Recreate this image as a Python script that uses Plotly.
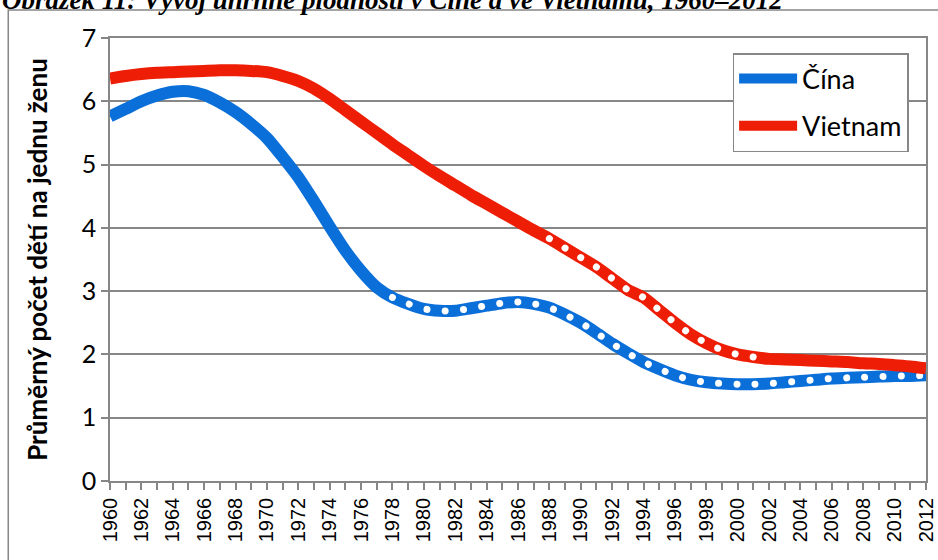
import plotly.graph_objects as go

# Total fertility rate, China vs Vietnam, 1960-2012
YEARS = list(range(1960, 2013))

CHINA = [5.76, 5.88, 6.00, 6.09, 6.15, 6.16, 6.10, 5.98, 5.83, 5.64,
         5.42, 5.12, 4.80, 4.42, 4.02, 3.64, 3.32, 3.06, 2.90, 2.80,
         2.72, 2.69, 2.69, 2.73, 2.77, 2.81, 2.83, 2.80, 2.74, 2.63,
         2.50, 2.34, 2.17, 2.02, 1.88, 1.77, 1.67, 1.60, 1.56, 1.54,
         1.53, 1.53, 1.54, 1.56, 1.58, 1.60, 1.62, 1.63, 1.64, 1.65,
         1.66, 1.66, 1.67]

VIETNAM = [6.36, 6.40, 6.43, 6.45, 6.46, 6.47, 6.48, 6.49, 6.49, 6.48,
           6.46, 6.40, 6.32, 6.20, 6.04, 5.86, 5.68, 5.50, 5.32, 5.15,
           4.98, 4.82, 4.67, 4.52, 4.38, 4.24, 4.10, 3.96, 3.83, 3.68,
           3.53, 3.38, 3.20, 3.02, 2.90, 2.70, 2.50, 2.32, 2.18, 2.07,
           2.00, 1.96, 1.93, 1.92, 1.91, 1.90, 1.89, 1.88, 1.86, 1.85,
           1.83, 1.81, 1.78]

# years drawn with the white dotted overlay
CHINA_DOTTED = (1978, 2012)
VIETNAM_DOTTED = (1988, 2002)

X_TICKS = list(range(1960, 2013, 2))
Y_TICKS = list(range(0, 8))

TITLE = "Obrázek 11: Vývoj úhrnné plodnosti v Číně a ve Vietnamu, 1960–2012"
Y_TITLE = "Průměrný počet dětí na jednu ženu"

BLUE = "#0B6FD9"
RED = "#EE1D05"
GRID = "#878787"


def subset(years, values, span):
    xs, ys = [], []
    for yr, v in zip(years, values):
        if span[0] <= yr <= span[1]:
            xs.append(yr)
            ys.append(v)
    return xs, ys


fig = go.Figure()

for name, vals, color, span in [("Čína", CHINA, BLUE, CHINA_DOTTED),
                                ("Vietnam", VIETNAM, RED, VIETNAM_DOTTED)]:
    fig.add_trace(go.Scatter(
        x=YEARS, y=vals, name=name, mode="lines",
        line=dict(color=color, width=12, shape="spline", smoothing=0.6),
        legendgroup=name,
    ))
    dx, dy = subset(YEARS, vals, span)
    fig.add_trace(go.Scatter(
        x=dx, y=dy, mode="lines", showlegend=False, hoverinfo="skip",
        line=dict(color="#FFFFFF", width=7, shape="spline", smoothing=0.6,
                  dash="5px,13px"),
        legendgroup=name,
    ))

# outer chart frame (runs off the right and bottom edges)
fig.add_shape(type="rect", xref="paper", yref="paper",
              x0=-0.1247, x1=1.05, y0=-0.3, y1=1.0632,
              line=dict(color=GRID, width=1.5), layer="below")

fig.add_annotation(
    text=TITLE, xref="paper", yref="paper", x=-0.1345, y=1.086,
    xanchor="left", yanchor="middle", showarrow=False,
    font=dict(family="Liberation Serif", size=27, color="black",
              weight="bold", style="italic"),
)

fig.update_layout(
    width=938, height=560,
    margin=dict(l=110, r=10, t=38, b=79),
    paper_bgcolor="white", plot_bgcolor="white",
    showlegend=True,
    legend=dict(
        x=0.763, y=0.966, xanchor="left", yanchor="top",
        bgcolor="white", bordercolor=GRID, borderwidth=1.5,
        font=dict(family="Lato", size=27, color="black"),
        traceorder="grouped", tracegroupgap=9,
        itemwidth=58,
    ),
    xaxis=dict(
        range=[1960, 2012], tickvals=X_TICKS, tickangle=-90,
        ticks="outside", ticklen=7, tickcolor=GRID, tickwidth=1.5,
        minor=dict(dtick=1, tick0=1960, ticks="outside", ticklen=7,
                   tickcolor=GRID, tickwidth=1.5, showgrid=False),
        showgrid=False, showline=True, linecolor=GRID, linewidth=1.5,
        mirror=True, zeroline=False, automargin=False,
        tickfont=dict(family="Liberation Sans", size=20, color="black"),
    ),
    yaxis=dict(
        range=[0, 7], tickvals=Y_TICKS,
        ticks="outside", ticklen=7, tickcolor=GRID, tickwidth=1.5,
        showgrid=True, gridcolor=GRID, gridwidth=1.5,
        showline=True, linecolor=GRID, linewidth=1.5, mirror=True,
        zeroline=False,
        tickfont=dict(family="Lato", size=25, color="black"),
        title=dict(text=Y_TITLE, standoff=27,
                   font=dict(family="Lato", size=26, color="black",
                             weight="bold")),
    ),
)

# no page margin; round dot caps for the white dotted overlay
post = """
document.body.style.margin = '0';
document.querySelectorAll('.scatterlayer .trace path.js-line').forEach(function(p){
  if ((p.style.stroke || '').replace(/\\s/g,'') === 'rgb(255,255,255)') {
    p.style.strokeLinecap = 'round';
    p.style.strokeDasharray = '0.01px,18.3px';
  }
});
"""

fig.write_html("out.html", post_script=post, config={"displayModeBar": False})
